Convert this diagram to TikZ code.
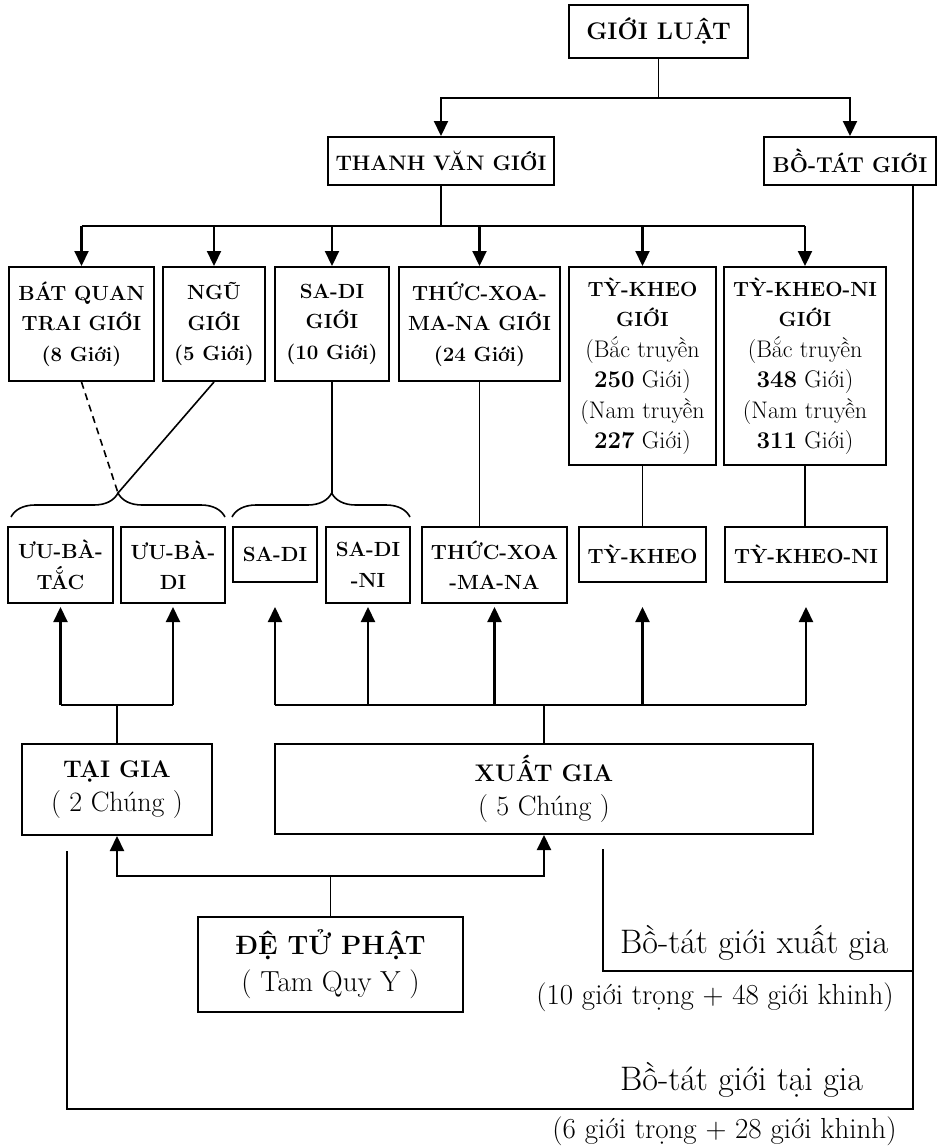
\documentclass[tikz,border=0pt]{standalone}
\usepackage{fontspec}
\usepackage{tikz}
\usetikzlibrary{arrows.meta,decorations.pathreplacing,calc}

\newcommand{\lite}[2]{{\mdseries\fontsize{#1}{#1}\selectfont #2}}

\begin{document}
\begin{tikzpicture}[x=1pt, y=-1pt,
  box/.style={draw, line width=2pt, inner sep=0pt, align=center,
    font=\fontsize{20.5}{30.5}\selectfont\bfseries},
  cnt/.style={line width=1.6pt},
  arr/.style={line width=2.2pt, -{Triangle[width=14pt,length=15pt]}},
  brc/.style={line width=1.6pt, decorate, decoration={brace, amplitude=24pt}},
  note/.style={inner sep=0pt, font=\fontsize{34}{38}\selectfont},
  sumtxt/.style={inner sep=0pt, font=\fontsize{29}{32}\selectfont}]
  \useasboundingbox (0,0) rectangle (937,1146);

  % Top
  \node[box, minimum width=179, minimum height=53, font=\fontsize{24}{30}\selectfont\bfseries] (lut) at (658.5,31.5) {GIỚI LUẬT};
  \node[box, minimum width=226, minimum height=48, font=\fontsize{21}{30}\selectfont\bfseries] (thanh) at (441,161) {THANH VĂN GIỚI};
  \node[box, minimum width=172, minimum height=48, font=\fontsize{21.5}{30}\selectfont\bfseries] (btat) at (850,161) {BỒ-TÁT GIỚI};
  \draw[cnt] (lut.south) -- (lut.south |- 0,98);
  \draw[arr] (lut.south |- 0,98) -| (thanh.north);
  \draw[arr] (lut.south |- 0,98) -| (btat.north);

  % Thanh van gioi
  \node[box, minimum width=145, minimum height=114] (bqtg) at (81.5,324) {BÁT QUAN\\TRAI GIỚI\\(8 Giới)};
  \node[box, minimum width=102, minimum height=114] (ngu) at (214,324) {NGŨ\\GIỚI\\(5 Giới)};
  \node[box, minimum width=114, minimum height=114] (sdg) at (332,324) {SA-DI\\GIỚI\\(10 Giới)};
  \node[box, minimum width=161, minimum height=114] (txg) at (479.5,324) {THỨC-XOA-\\MA-NA GIỚI\\(24 Giới)};
  \node[box, minimum width=147, minimum height=198] (tkg) at (642.5,366)
    {TỲ-KHEO\\GIỚI\\\lite{24}{(Bắc truyền}\\\lite{24}{\textbf{250} Giới)}\\\lite{24}{(Nam truyền}\\\lite{24}{\textbf{227} Giới)}};
  \node[box, minimum width=162, minimum height=198] (tkng) at (805,366)
    {TỲ-KHEO-NI\\GIỚI\\\lite{24}{(Bắc truyền}\\\lite{24}{\textbf{348} Giới)}\\\lite{24}{(Nam truyền}\\\lite{24}{\textbf{311} Giới)}};
  \draw[cnt] (thanh.south) -- (thanh.south |- 0,226);
  \draw[arr, -] (bqtg.north |- 0,226) -- (tkng.north |- 0,226);
  \foreach \n in {bqtg,ngu,sdg,txg,tkg,tkng}
    \draw[arr] (\n.north |- 0,226) -- (\n.north);

  % Braces
  \coordinate (lbr) at (118,493);
  \coordinate (rbr) at (332,493);
  \draw[brc] (11,517) -- (225,517);
  \draw[brc, decoration={aspect=0.56}] (232,517) -- (410,517);
  \draw[cnt, dash pattern=on 7pt off 5pt] (bqtg.south) -- (lbr);
  \draw[cnt] (ngu.south) -- (lbr);
  \draw[cnt] (sdg.south) -- (rbr);

  % Chung
  \node[box, minimum width=105, minimum height=76] (ubt) at (60.5,565) {ƯU-BÀ-\\TẮC};
  \node[box, minimum width=104, minimum height=76] (ubd) at (173,565) {ƯU-BÀ-\\DI};
  \node[box, minimum width=84, minimum height=55] (sd) at (275,554.5) {SA-DI};
  \node[box, minimum width=84, minimum height=76] (sdn) at (368,565) {SA-DI\\-NI};
  \node[box, minimum width=145, minimum height=76] (txm) at (494.5,565) {THỨC-XOA\\-MA-NA};
  \node[box, minimum width=127, minimum height=55] (tk) at (642.5,554.5) {TỲ-KHEO};
  \node[box, minimum width=162, minimum height=55] (tkn) at (806,554.5) {TỲ-KHEO-NI};
  \draw[cnt] (txg.south) -- (txg.south |- txm.north);
  \draw[cnt] (tkg.south) -- (tk.north);
  \draw[cnt] (tkng.south) -- (tkng.south |- tkn.north);

  % Tai gia / Xuat gia
  \node[box, minimum width=190, minimum height=91, font=\fontsize{24}{34}\selectfont\bfseries] (tai) at (117,789.5)
    {TẠI GIA\\\lite{28}{( 2 Chúng )}};
  \node[box, minimum width=538, minimum height=90, font=\fontsize{24}{34}\selectfont\bfseries] (xuat) at (544,789)
    {XUẤT GIA\\\lite{28}{( 5 Chúng )}};
  \draw[cnt] (tai.north) -- (tai.north |- 0,705);
  \draw[arr, -] (ubt.south |- 0,705) -- (ubd.south |- 0,705);
  \foreach \n in {ubt,ubd}
    \draw[arr] (\n.south |- 0,705) -- (\n.south |- 0,607);
  \draw[cnt] (xuat.north) -- (xuat.north |- 0,705);
  \draw[arr, -] (sd.south |- 0,705) -- (tkn.south |- 0,705);
  \foreach \n in {sd,sdn,txm,tk,tkn}
    \draw[arr] (\n.south |- 0,705) -- (\n.south |- 0,607);

  % De tu Phat
  \node[box, minimum width=265, minimum height=95, font=\fontsize{26.5}{37}\selectfont\bfseries] (dtp) at (330.5,964.5)
    {ĐỆ TỬ PHẬT\\\lite{29}{( Tam Quy Y )}};
  \draw[cnt] (dtp.north) -- (dtp.north |- 0,876);
  \draw[arr] (dtp.north |- 0,876) -| (tai.south);
  \draw[arr] (dtp.north |- 0,876) -| (xuat.south);

  % Bo-tat gioi
  \coordinate (bt) at ([xshift=63pt]btat.south);
  \coordinate (tgf) at (67,851);
  \coordinate (xgf) at (603,849);
  \draw[cnt] (tgf) |- (bt |- 0,1109) -- (bt);
  \draw[cnt] (xgf) |- (bt |- 0,971);
  \node[note, anchor=base west] (btxg) at (620,953) {Bồ-tát giới xuất gia};
  \node[sumtxt] (xgsum) at (715,997) {(10 giới trọng + 48 giới khinh)};
  \node[note, anchor=base west] (bttg) at (620,1090) {Bồ-tát giới tại gia};
  \node[sumtxt] (tgsum) at (724.5,1131) {(6 giới trọng + 28 giới khinh)};
\end{tikzpicture}
\end{document}
